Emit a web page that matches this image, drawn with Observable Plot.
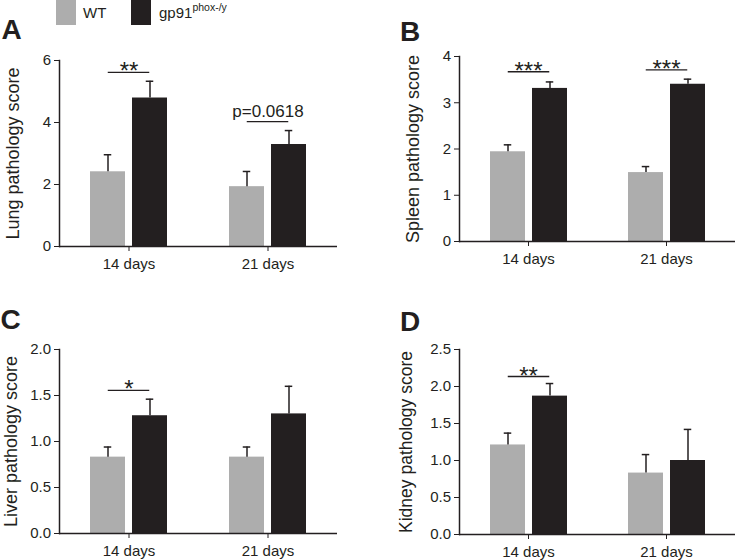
<!DOCTYPE html>
<html>
<head>
<meta charset="utf-8">
<script src="https://cdn.jsdelivr.net/npm/d3@7"></script>
<script src="https://cdn.jsdelivr.net/npm/@observablehq/plot@0.6"></script>
<style>
  body { margin: 0; background: #fff; }
  #root { position: relative; width: 737px; height: 560px; overflow: hidden;
          font-family: "Liberation Sans", Arial, Helvetica, sans-serif; color: #231f20; background: #fff; }
  .panel { position: absolute; }
  .letter { position: absolute; font-weight: bold; font-size: 28px; line-height: 1; }
  .sw { position: absolute; }
  .lt { position: absolute; font-size: 15px; line-height: 1; white-space: nowrap; }
  .lt sup { font-size: 10.5px; vertical-align: baseline; position: relative; top: -7px; }
</style>
</head>
<body>
<div id="root"></div>
<script>
const INK = "#231f20";
const FONT = '"Liberation Sans", Arial, Helvetica, sans-serif';

// ---- shared categories ----
const days = ["14 days", "21 days"];
const groups = ["WT", "gp91phox-/y"];
const groupBase = ["WT", "gp91"];
const groupSup = ["", "phox-/y"];
const groupColors = ["#adadad", "#231f20"];

// ---- A: lung ----
const lungWT = [2.41, 1.93];
const lungWTsem = [0.55, 0.49];
const lungKO = [4.79, 3.29];
const lungKOsem = [0.54, 0.45];
const lungSigDay = ["14 days", "21 days"];
const lungSigY = [5.62, 4.03];
const lungSigText = ["**", "p=0.0618"];
const lungTicks = [0, 2, 4, 6];

// ---- B: spleen ----
const spleenWT = [1.94, 1.49];
const spleenWTsem = [0.15, 0.13];
const spleenKO = [3.31, 3.40];
const spleenKOsem = [0.14, 0.11];
const spleenSigDay = ["14 days", "21 days"];
const spleenSigY = [3.67, 3.71];
const spleenSigText = ["***", "***"];
const spleenTicks = [0, 1, 2, 3, 4];

// ---- C: liver ----
const liverWT = [0.83, 0.83];
const liverWTsem = [0.11, 0.11];
const liverKO = [1.28, 1.30];
const liverKOsem = [0.18, 0.30];
const liverSigDay = ["14 days"];
const liverSigY = [1.555];
const liverSigText = ["*"];
const liverTicks = [0, 0.5, 1.0, 1.5, 2.0];

// ---- D: kidney ----
const kidneyWT = [1.21, 0.83];
const kidneyWTsem = [0.16, 0.25];
const kidneyKO = [1.87, 1.00];
const kidneyKOsem = [0.17, 0.42];
const kidneySigDay = ["14 days"];
const kidneySigY = [2.135];
const kidneySigText = ["**"];
const kidneyTicks = [0, 0.5, 1.0, 1.5, 2.0, 2.5];

function rows(wt, wtSem, ko, koSem) {
  return days.flatMap((day, i) => [
    {day, group: groups[0], mean: wt[i], sem: wtSem[i]},
    {day, group: groups[1], mean: ko[i], sem: koSem[i]}
  ]);
}
function sigRows(dayList, yList, textList) {
  return dayList.map((day, i) => ({day, y: yList[i], label: textList[i], stars: /^\*+$/.test(textList[i])}));
}

const root = document.getElementById("root");

function panel(cfg) {
  const data = cfg.rows;
  const sig = cfg.sig;
  const chart = Plot.plot({
    width: cfg.width, height: cfg.height,
    marginLeft: cfg.m[0], marginRight: cfg.m[1], marginTop: cfg.m[2], marginBottom: cfg.m[3],
    style: {fontFamily: FONT, fontSize: "15px", color: INK, background: "transparent", overflow: "visible"},
    fx: {domain: days, padding: 0, label: null, axis: "bottom", tickSize: 5, tickPadding: 7},
    x: {domain: groups, axis: null, paddingInner: 0.174, paddingOuter: 0.706},
    y: {domain: cfg.yDomain, ticks: cfg.ticks, tickFormat: cfg.fmt, tickSize: 5, tickPadding: 3.5,
        label: cfg.label, labelArrow: "none", labelAnchor: "center", labelOffset: cfg.labelOffset},
    color: {domain: groups, range: groupColors},
    marks: [
      Plot.barY(data, {fx: "day", x: "group", y: "mean", fill: "group"}),
      Plot.ruleX(data, {fx: "day", x: "group", y1: "mean", y2: d => d.mean + d.sem, stroke: INK, strokeWidth: 1.5}),
      Plot.tickY(data, {fx: "day", x: "group", y: d => d.mean + d.sem, stroke: INK, strokeWidth: 1.5, insetLeft: 13.75, insetRight: 13.75}),
      Plot.ruleY(sig, {fx: "day", y: "y", x1: () => groups[0], x2: () => groups[1], insetLeft: 17.75, insetRight: 17.75, stroke: INK, strokeWidth: 1.3}),
      Plot.text(sig.filter(d => d.stars), {fx: "day", y: "y", text: "label", lineAnchor: "bottom", dy: 7, fontSize: 24, fill: INK}),
      Plot.text(sig.filter(d => !d.stars), {fx: "day", y: "y", text: "label", lineAnchor: "bottom", dy: -4.3, fontSize: 17, fill: INK}),
      Plot.ruleY([cfg.yDomain[0]], {stroke: INK, strokeWidth: 1.5}),
      Plot.frame({anchor: "left", facet: "super", stroke: INK, strokeWidth: 1.5})
    ]
  });
  chart.querySelectorAll('g[aria-label="y-axis label"], g[aria-label="y-axis label"] text').forEach(el => {
    el.style.fontSize = cfg.labelSize + "px";
  });
  chart.classList.add("panel");
  chart.style.left = cfg.left + "px";
  chart.style.top = cfg.top + "px";
  root.appendChild(chart);
  const L = document.createElement("div");
  L.className = "letter";
  L.textContent = cfg.letter;
  L.style.left = cfg.letterPos[0] + "px";
  L.style.top = cfg.letterPos[1] + "px";
  root.appendChild(L);
}

const fmt1 = d3.format(".1f");

panel({letter: "A", letterPos: [1.5, 16.4], left: 0, top: 0, width: 368, height: 280, m: [58, 31, 60, 34],
  rows: rows(lungWT, lungWTsem, lungKO, lungKOsem), sig: sigRows(lungSigDay, lungSigY, lungSigText),
  yDomain: [0, 6], ticks: lungTicks, fmt: d3.format("d"), label: "Lung pathology score", labelOffset: 53, labelSize: 18});
panel({letter: "B", letterPos: [400, 18], left: 368, top: 0, width: 369, height: 280, m: [90, 2, 56, 39],
  rows: rows(spleenWT, spleenWTsem, spleenKO, spleenKOsem), sig: sigRows(spleenSigDay, spleenSigY, spleenSigText),
  yDomain: [0, 4], ticks: spleenTicks, fmt: d3.format("d"), label: "Spleen pathology score", labelOffset: 53, labelSize: 18});
panel({letter: "C", letterPos: [0.5, 306.4], left: 0, top: 280, width: 368, height: 280, m: [59, 31, 69, 27],
  rows: rows(liverWT, liverWTsem, liverKO, liverKOsem), sig: sigRows(liverSigDay, liverSigY, liverSigText),
  yDomain: [0, 2], ticks: liverTicks, fmt: fmt1, label: "Liver pathology score", labelOffset: 55, labelSize: 18});
panel({letter: "D", letterPos: [400, 308], left: 368, top: 280, width: 369, height: 280, m: [90, 2, 69, 26],
  rows: rows(kidneyWT, kidneyWTsem, kidneyKO, kidneyKOsem), sig: sigRows(kidneySigDay, kidneySigY, kidneySigText),
  yDomain: [0, 2.5], ticks: kidneyTicks, fmt: fmt1, label: "Kidney pathology score", labelOffset: 60, labelSize: 17.5});

// ---- legend ----
const legendPos = [[56, 83], [131, 159]];
groups.forEach((g, i) => {
  const sw = document.createElement("div");
  sw.className = "sw";
  Object.assign(sw.style, {left: legendPos[i][0] + "px", top: "0px", width: "20px", height: "25px", background: groupColors[i]});
  root.appendChild(sw);
  const t = document.createElement("div");
  t.className = "lt";
  t.style.left = legendPos[i][1] + "px";
  t.style.top = "4.6px";
  t.textContent = groupBase[i];
  if (groupSup[i]) {
    const s = document.createElement("sup");
    s.textContent = groupSup[i];
    t.appendChild(s);
  }
  root.appendChild(t);
});
</script>
</body>
</html>
